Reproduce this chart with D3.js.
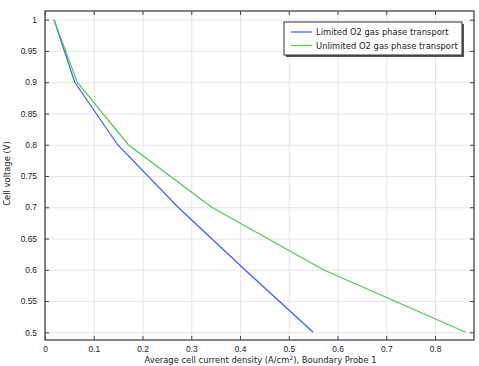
<!DOCTYPE html>
<html>
<head>
<meta charset="utf-8">
<script src="https://cdn.jsdelivr.net/npm/d3@7"></script>
<style>
  body { margin: 0; background: #fff; }
  svg { font-family: "DejaVu Sans", sans-serif; }
  .grid line { stroke: #e6e6e6; }
  .grid path { display: none; }
</style>
</head>
<body>
<div id="chart"></div>
<script>
(function() {

// data
var currentLimited = [0.0185, 0.061, 0.149, 0.273, 0.41, 0.55];
var voltageLimited = [1.0, 0.9, 0.8, 0.7, 0.6, 0.5];
var currentUnlimited = [0.0185, 0.066, 0.171, 0.342, 0.571, 0.863];
var voltageUnlimited = [1.0, 0.9, 0.8, 0.7, 0.6, 0.5];
var seriesNames = ['Limited O2 gas phase transport', 'Unlimited O2 gas phase transport'];
var seriesColors = ['#3a5bff', '#4ccc4c'];
var xTicks = [0, 0.1, 0.2, 0.3, 0.4, 0.5, 0.6, 0.7, 0.8];
var yTicks = [0.5, 0.55, 0.6, 0.65, 0.7, 0.75, 0.8, 0.85, 0.9, 0.95, 1];

var W = 479, H = 366;
var fs = '8.4px';
var margin = {top: 11, right: 5, bottom: 26, left: 45},
    width = W - margin.left - margin.right,
    height = H - margin.top - margin.bottom;

var x = d3.scaleLinear().domain([0, 0.88]).range([0, width]);
var y = d3.scaleLinear().domain([0.4877, 1.0139]).range([height, 0]);

var svg = d3.select('#chart').append('svg')
    .attr('width', W).attr('height', H)
  .append('g')
    .attr('transform', 'translate(' + margin.left + ',' + margin.top + ')');

// grid
svg.append('g').attr('class', 'grid')
    .attr('transform', 'translate(0,' + height + ')')
    .call(d3.axisBottom(x).tickValues(xTicks).tickSize(-height).tickFormat(''));
svg.append('g').attr('class', 'grid')
    .call(d3.axisLeft(y).tickValues(yTicks).tickSize(-width).tickFormat(''));

// lines
var line = d3.line()
    .x(function(d) { return x(d[0]); })
    .y(function(d) { return y(d[1]); });

var series = [d3.zip(currentLimited, voltageLimited), d3.zip(currentUnlimited, voltageUnlimited)];
series.forEach(function(s, i) {
  svg.append('path')
      .datum(s)
      .attr('fill', 'none')
      .attr('stroke', seriesColors[i])
      .attr('stroke-width', 1.2)
      .attr('d', line);
});

// frame
svg.append('rect')
    .attr('width', width).attr('height', height)
    .attr('fill', 'none').attr('stroke', '#444').attr('stroke-width', 1.3);

// axes (ticks point inward)
function styleAxis(g) {
  g.select('.domain').remove();
  g.selectAll('line').attr('stroke', '#444');
  g.selectAll('text').attr('fill', '#222').style('font-size', fs);
}
svg.append('g')
    .attr('transform', 'translate(0,' + height + ')')
    .call(d3.axisBottom(x).tickValues(xTicks).tickSize(-4).tickPadding(6).tickFormat(d3.format('')))
    .call(styleAxis);
svg.append('g')
    .call(d3.axisTop(x).tickValues(xTicks).tickSize(-4).tickFormat(''))
    .call(styleAxis);
svg.append('g')
    .call(d3.axisLeft(y).tickValues(yTicks).tickSize(-4).tickPadding(8).tickFormat(d3.format('')))
    .call(styleAxis);
svg.append('g')
    .attr('transform', 'translate(' + width + ',0)')
    .call(d3.axisRight(y).tickValues(yTicks).tickSize(-4).tickFormat(''))
    .call(styleAxis);

// axis labels
var xl = svg.append('text')
    .attr('x', width / 2 + 1)
    .attr('y', height + 23)
    .style('text-anchor', 'middle')
    .style('font-size', fs)
    .attr('fill', '#222');
xl.append('tspan').text('Average cell current density (A/cm');
xl.append('tspan').text('2').attr('dy', -3.5).style('font-size', '6px');
xl.append('tspan').text('), Boundary Probe 1').attr('dy', 3.5);

svg.append('text')
    .attr('transform', 'rotate(-90)')
    .attr('x', -height / 2 + 2)
    .attr('y', -35)
    .style('text-anchor', 'middle')
    .style('font-size', fs)
    .attr('fill', '#222')
    .text('Cell voltage (V)');

// legend
var lg = svg.append('g').attr('transform', 'translate(' + (284 - margin.left) + ',' + (22 - margin.top) + ')');
lg.append('rect').attr('x', 2).attr('y', 2).attr('width', 178).attr('height', 33).attr('fill', '#555');
lg.append('rect').attr('width', 178).attr('height', 33).attr('fill', '#fff').attr('stroke', '#333').attr('stroke-width', 1);
seriesNames.forEach(function(name, i) {
  var yy = 10 + i * 13.5;
  lg.append('line').attr('x1', 7).attr('x2', 28).attr('y1', yy).attr('y2', yy)
      .attr('stroke', seriesColors[i]).attr('stroke-width', 1.2);
  lg.append('text').attr('x', 32).attr('y', yy + 3)
      .style('font-size', fs).attr('fill', '#222').text(name);
});

})();
</script>
</body>
</html>
